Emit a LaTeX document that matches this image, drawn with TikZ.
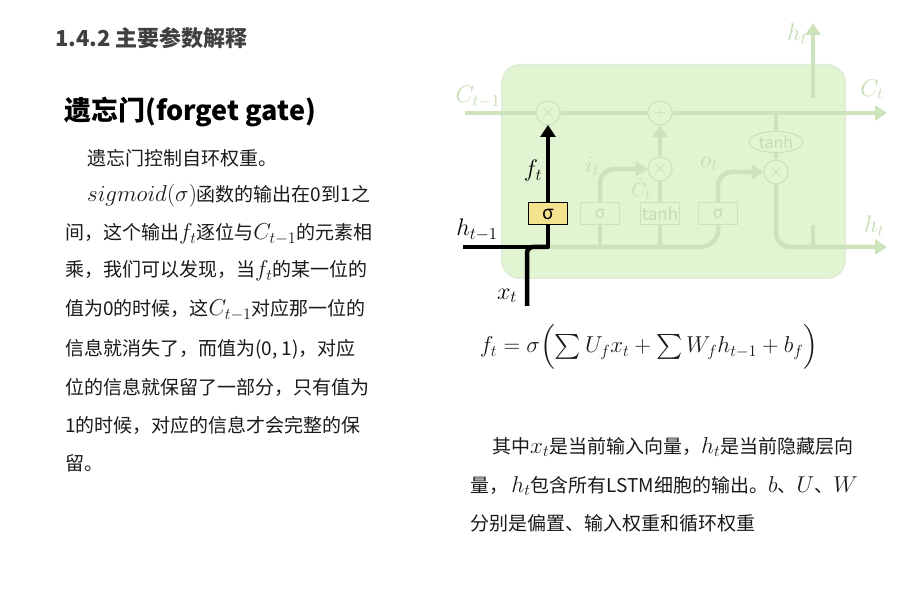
\RequirePackage{fix-cm}
\documentclass[tikz,border=0pt]{standalone}
\usepackage{fontspec}
\usepackage{amsmath}
\setmainfont{Noto Sans CJK SC}
\usetikzlibrary{arrows.meta,shapes.geometric}
\definecolor{fadeln}{HTML}{CCE3BC}
\definecolor{fadefill}{HTML}{E2F5D3}
\definecolor{fadetx}{HTML}{C4DDB3}
\definecolor{sigy}{HTML}{F4E38E}
\definecolor{txt}{HTML}{1A1A1A}
\newcommand{\mm}[1]{{\fontsize{23}{23}\selectfont$#1$}}
\tikzset{x=1pt,y=-1pt,
 fl/.style={draw=fadeln,line width=4.5pt},
 fbox/.style={draw=fadeln,line width=1pt,minimum width=39pt,minimum height=22pt,inner sep=0pt,font=\fontsize{17}{17}\selectfont,text=fadetx},
 fop/.style={circle,draw=fadeln,line width=1pt,minimum size=24pt,inner sep=0pt,text=fadetx,fill=fadefill,font=\fontsize{18}{18}\selectfont},
 fla/.style={text=fadetx,font=\fontsize{24}{24}\selectfont},
 lab/.style={font=\fontsize{24}{24}\selectfont},
 body/.style={anchor=west,inner sep=0pt,text=txt,font=\fontsize{19}{19}\selectfont},
 arr/.style={-{Triangle[width=15pt,length=12pt]}}
}
\begin{document}
\begin{tikzpicture}
\useasboundingbox[fill=white] (0,0) rectangle (921,601);
% titles
\node[anchor=west,inner sep=0pt,text=black!75,font=\fontsize{22}{22}\selectfont\bfseries] at (55,38) {1.4.2 主要参数解释};
\node[anchor=west,inner sep=0pt,text=black,font=\fontsize{27}{27}\selectfont\bfseries] at (64,112) {遗忘门(forget gate)};
\node[body] at (87,158) {遗忘门控制自环权重。};
\node[body] at (87,196) {\mm{sigmoid(\sigma)}函数的输出在0到1之};
\node[body] at (65,234) {间，这个输出\mm{f_t}逐位与\mm{C_{t-1}}的元素相};
\node[body] at (65,271) {乘，我们可以发现，当\mm{f_t}的某一位的};
\node[body] at (65,310) {值为0的时候，这\mm{C_{t-1}}对应那一位的};
\node[body] at (65,349) {信息就消失了，而值为(0, 1)，对应};
\node[body] at (65,387) {位的信息就保留了一部分，只有值为};
\node[body] at (65,425) {1的时候，对应的信息才会完整的保};
\node[body] at (65,463) {留。};
\node[body] at (492,447) {其中\mm{x_t}是当前输入向量，\mm{h_t}是当前隐藏层向};
\node[body] at (470,486) {量，\,\mm{h_t}包含所有LSTM细胞的输出。\mm{b}、\mm{U}、\mm{W}};
\node[body] at (470,523) {分别是偏置、输入权重和循环权重};
\node[inner sep=0pt,text=txt,font=\fontsize{23}{23}\selectfont] (eq) at (649,347) {$f_t=\sigma\Bigl(\sum U_f x_t+\sum W_f h_{t-1}+b_f\Bigr)$};
% cell
\fill[fadefill,draw=fadeln!60,line width=2pt,rounded corners=18pt] (502,65) rectangle (845,278);
\node[fop] (m1) at (548,113) {$\times$};
\node[fop] (p1) at (660,113) {$+$};
\node[fop] (m2) at (660,169) {$\times$};
\node[fop] (m3) at (776,172) {$\times$};
\node[ellipse,draw=fadeln,line width=1pt,minimum width=54pt,minimum height=21pt,inner sep=0pt,text=fadetx,font=\fontsize{16}{16}\selectfont,fill=fadefill] (th) at (776,142) {tanh};
\node[fbox] (s2) at (600,214) {σ};
\node[fbox] (t2) at (660,214) {tanh};
\node[fbox] (s3) at (718,214) {σ};
\coordinate (cin) at (465,113);
\coordinate (cout) at (887,113);
\coordinate (hout) at (887,247);
\coordinate (htop) at (813,23);
\draw[fl] (cin) -- (m1) -- (p1);
\draw[fl,arr] (p1) -- (cout);
\draw[fl,arr] (m2) -- (p1);
\draw[fl] (548,247) -- (700,247) to[out=0,in=-90] (718,230) -- (s3);
\draw[fl] (600,247) -- (s2); \draw[fl] (660,247) -- (t2);
\draw[fl] (t2) -- (m2);
\draw[fl,arr,rounded corners=14pt] (s2) |- (m2);
\draw[fl,arr,rounded corners=14pt] (s3) |- (m3);
\draw[fl] (776,113) -- (th) -- (m3);
\draw[fl,arr,rounded corners=14pt] (m3) |- (hout);
\draw[fl] (813,247) -- (813,225);
\draw[fl,arr] (813,98) -- (htop);
\node[fop] at (548,113) {$\times$};
\node[fop] at (660,113) {$+$};
\node[fop] at (660,169) {$\times$};
\node[fop] at (776,172) {$\times$};
\node[ellipse,draw=fadeln,line width=1pt,minimum width=54pt,minimum height=21pt,inner sep=0pt,text=fadetx,font=\fontsize{16}{16}\selectfont,fill=fadefill] at (776,142) {tanh};
\node[fla] at (478,97) {$C_{t-1}$};
\node[fla] at (872,90) {$C_t$};
\node[fla] at (797,34) {$h_t$};
\node[fla] at (874,226) {$h_t$};
\node[fla] at (592,166) {$i_t$};
\node[fla,inner sep=0pt,font=\fontsize{20}{20}\selectfont] at (641,189) {$\tilde C_t$};
\node[fla] at (709,164) {$o_t$};
% forget path
\node[draw=black,fill=sigy,line width=1pt,minimum width=39pt,minimum height=22pt,inner sep=0pt,font=\fontsize{19}{19}\selectfont] (sf) at (548,214) {σ};
\coordinate (hin) at (463,247);
\coordinate (xin) at (527,306);
\coordinate (ft) at (548,125);
\draw[line width=4.5pt,line join=round] (hin) -- (548,247) -- (sf.south);
\draw[line width=4.5pt,rounded corners=6pt] (xin) -- (527,247) -- (548,247);
\draw[line width=4.5pt,-{Triangle[width=15pt,length=12pt]}] (sf.north) -- (ft);
\node[lab] at (533,171) {$f_t$};
\node[lab] at (477,230) {$h_{t-1}$};
\node[lab] at (507,296) {$x_t$};
\end{tikzpicture}
\end{document}
